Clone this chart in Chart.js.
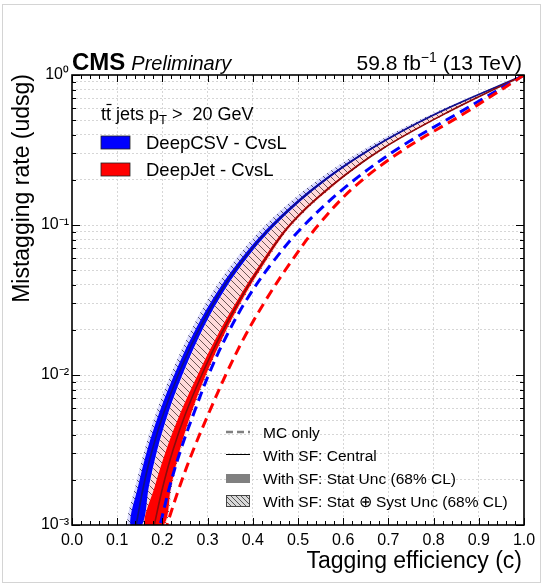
<!DOCTYPE html>
<html>
<head>
<meta charset="utf-8">
<script src="https://cdn.jsdelivr.net/npm/chart.js@4.4.1/dist/chart.umd.min.js"></script>
<style>
  html, body { margin: 0; padding: 0; background: #fff; }
  canvas { display: block; }
</style>
</head>
<body>
<canvas id="roc" width="547" height="585"></canvas>
<script>
// Light-flavour mistag rate levels at which each ROC curve is sampled
const mistagLevels = [1, 0.56, 0.32, 0.18, 0.1, 0.056, 0.032, 0.018, 0.01, 0.0056, 0.0032, 0.0018, 0.001];

// DeepCSV CvsL: charm tagging efficiency at each mistag level
const deepCsvMc       = [1.000, 0.856, 0.719, 0.606, 0.514, 0.443, 0.387, 0.341, 0.302, 0.270, 0.241, 0.216, 0.195];
const deepCsvSf       = [1.000, 0.810, 0.660, 0.540, 0.445, 0.373, 0.318, 0.273, 0.235, 0.203, 0.178, 0.158, 0.142];
const deepCsvStatLow  = [1.000, 0.808, 0.657, 0.536, 0.440, 0.367, 0.311, 0.265, 0.226, 0.193, 0.167, 0.146, 0.129];
const deepCsvStatHigh = [1.000, 0.812, 0.663, 0.544, 0.450, 0.379, 0.325, 0.281, 0.244, 0.213, 0.189, 0.170, 0.155];
const deepCsvSystLow  = [1.000, 0.802, 0.647, 0.524, 0.428, 0.356, 0.301, 0.256, 0.218, 0.186, 0.161, 0.140, 0.123];
const deepCsvSystHigh = [1.000, 0.812, 0.663, 0.544, 0.450, 0.379, 0.325, 0.281, 0.244, 0.213, 0.189, 0.170, 0.155];

// DeepJet CvsL
const deepJetMc       = [1.000, 0.870, 0.735, 0.625, 0.545, 0.483, 0.430, 0.382, 0.340, 0.303, 0.269, 0.238, 0.210];
const deepJetSf       = [1.000, 0.829, 0.685, 0.572, 0.482, 0.422, 0.372, 0.327, 0.287, 0.252, 0.224, 0.201, 0.182];
const deepJetStatLow  = [1.000, 0.827, 0.683, 0.569, 0.479, 0.418, 0.367, 0.320, 0.278, 0.240, 0.209, 0.183, 0.161];
const deepJetStatHigh = [1.000, 0.831, 0.687, 0.575, 0.485, 0.426, 0.377, 0.334, 0.296, 0.264, 0.239, 0.219, 0.203];
const deepJetSystLow  = [1.000, 0.813, 0.664, 0.545, 0.451, 0.380, 0.326, 0.282, 0.245, 0.214, 0.190, 0.171, 0.156];
const deepJetSystHigh = [1.000, 0.833, 0.689, 0.577, 0.487, 0.428, 0.379, 0.336, 0.298, 0.266, 0.241, 0.221, 0.205];

// Axis ticks
const xMajorTicks = [0.0, 0.1, 0.2, 0.3, 0.4, 0.5, 0.6, 0.7, 0.8, 0.9, 1.0];
const xTickLabels = ['0.0', '0.1', '0.2', '0.3', '0.4', '0.5', '0.6', '0.7', '0.8', '0.9', '1.0'];
const yMajorTicks = [0.001, 0.01, 0.1, 1];
const yTickLabels = ['10\u207B\u00B3', '10\u207B\u00B2', '10\u207B\u00B9', '10\u2070'];

const FONT = '"Liberation Sans", Arial, Helvetica, sans-serif';

// minor tick positions: 5 subdivisions on x, 1..9 per decade on y
const xTicks = [];
for (let i = 0; i <= 50; i++) xTicks.push(Math.round(i * 2) / 100);
const yTicks = [];
for (let d = 0; d < yMajorTicks.length - 1; d++) {
  for (let k = 1; k <= 9; k++) yTicks.push(+(k * yMajorTicks[d]).toPrecision(6));
}
yTicks.push(1);

const isMajorX = v => Math.abs(v * 10 - Math.round(v * 10)) < 1e-6;
const isMajorY = v => Math.abs(Math.log10(v) - Math.round(Math.log10(v))) < 1e-6;

function curve(effs) {
  return effs.map((e, i) => ({ x: e, y: mistagLevels[i] }));
}
function band(low, high) {
  return curve(low).concat(curve(high).reverse());
}
function hatch(fill, stroke, size) {
  const c = document.createElement('canvas');
  c.width = size; c.height = size;
  const g = c.getContext('2d');
  g.fillStyle = fill;
  g.fillRect(0, 0, size, size);
  g.strokeStyle = stroke;
  g.lineWidth = 0.9;
  g.beginPath();
  for (const k of [-size, 0, size]) { g.moveTo(k, 0); g.lineTo(k + size, size); }
  g.stroke();
  return g.createPattern(c, 'repeat');
}

const ctx0 = document.getElementById('roc').getContext('2d');
const blueHatch = hatch('#dadaff', '#44445a', 7);
const redHatch = hatch('#ffdada', '#5a4444', 7);
const greyHatch = hatch('#d9d9d9', '#444444', 5);

function bandSet(low, high, color, order) {
  return { data: band(low, high), fill: 'shape', backgroundColor: color, borderColor: 'rgba(0,0,0,0)',
           borderWidth: 0, pointRadius: 0, tension: 0.35, order };
}
function lineSet(effs, color, width, dash, order) {
  return { data: curve(effs), fill: false, borderColor: color, borderWidth: width, borderDash: dash,
           pointRadius: 0, tension: 0.35, order };
}

const decor = {
  id: 'decor',
  afterDraw(chart) {
    const { ctx, chartArea: a, scales: { x, y } } = chart;
    ctx.save();

    // inward tick marks on all four sides
    ctx.strokeStyle = '#000';
    ctx.lineWidth = 1;
    ctx.beginPath();
    for (const t of x.ticks) {
      const px = Math.round(x.getPixelForValue(t.value)) + 0.5;
      const len = isMajorX(t.value) ? 7 : 4;
      ctx.moveTo(px, a.bottom); ctx.lineTo(px, a.bottom - len);
      ctx.moveTo(px, a.top); ctx.lineTo(px, a.top + len);
    }
    for (const t of y.ticks) {
      const py = Math.round(y.getPixelForValue(t.value)) + 0.5;
      const len = isMajorY(t.value) ? 8 : 4;
      ctx.moveTo(a.left, py); ctx.lineTo(a.left + len, py);
      ctx.moveTo(a.right, py); ctx.lineTo(a.right - len, py);
    }
    ctx.stroke();

    // frame
    ctx.lineWidth = 1.6;
    ctx.strokeRect(a.left, a.top, a.right - a.left, a.bottom - a.top);

    // page border
    ctx.strokeStyle = '#d4d4d4';
    ctx.lineWidth = 1;
    ctx.strokeRect(2.5, 4.5, 538, 578);

    ctx.fillStyle = '#000';
    ctx.textBaseline = 'alphabetic';

    // header
    ctx.textAlign = 'left';
    ctx.font = 'bold 24px ' + FONT;
    ctx.fillText('CMS', a.left, 70);
    const cmsW = ctx.measureText('CMS').width;
    ctx.font = 'italic 20px ' + FONT;
    ctx.fillText('Preliminary', a.left + cmsW + 6, 70);

    const partA = '59.8 fb', partB = '\u22121', partC = ' (13 TeV)';
    ctx.font = '21px ' + FONT;
    const wA = ctx.measureText(partA).width, wC = ctx.measureText(partC).width;
    ctx.font = '14px ' + FONT;
    const wB = ctx.measureText(partB).width;
    let sx = a.right - 2 - (wA + wB + wC);
    ctx.font = '21px ' + FONT;
    ctx.fillText(partA, sx, 70); sx += wA;
    ctx.font = '14px ' + FONT;
    ctx.fillText(partB, sx, 62); sx += wB;
    ctx.font = '21px ' + FONT;
    ctx.fillText(partC, sx, 70);

    // axis titles
    ctx.font = '23px ' + FONT;
    ctx.textAlign = 'right';
    ctx.fillText('Tagging efficiency (c)', a.right - 2, 568);
    ctx.save();
    ctx.translate(23, a.top - 1);
    ctx.rotate(-Math.PI / 2);
    ctx.textBaseline = 'middle';
    ctx.fillText('Mistagging rate (udsg)', 0, 0);
    ctx.restore();

    // upper legend
    ctx.textAlign = 'left';
    ctx.font = '18px ' + FONT;
    let lx = 101;
    const ly = 120;
    const tW = ctx.measureText('t').width;
    ctx.fillText('tt', lx, ly);
    ctx.lineWidth = 1.2;
    ctx.strokeStyle = '#000';
    ctx.beginPath();
    ctx.moveTo(lx + tW + 0.5, ly - 15.5); ctx.lineTo(lx + 2 * tW + 0.5, ly - 15.5);
    ctx.stroke();
    lx += ctx.measureText('tt').width;
    ctx.fillText(' jets p', lx, ly); lx += ctx.measureText(' jets p').width;
    ctx.font = '13px ' + FONT;
    ctx.fillText('T', lx, ly + 4); lx += ctx.measureText('T').width;
    ctx.font = '18px ' + FONT;
    ctx.fillText(' >  20 GeV', lx, ly);

    ctx.font = '18.5px ' + FONT;
    const entries = [['DeepCSV - CvsL', '#0000ff', 136], ['DeepJet - CvsL', '#ff0000', 163]];
    for (const [label, col, ry] of entries) {
      ctx.fillStyle = col;
      ctx.fillRect(101, ry, 29, 13);
      ctx.strokeStyle = '#222';
      ctx.lineWidth = 0.8;
      ctx.strokeRect(101, ry, 29, 13);
      ctx.fillStyle = '#000';
      ctx.fillText(label, 146, ry + 13);
    }

    // lower legend
    ctx.font = '15.5px ' + FONT;
    const sx0 = 226, sw = 24, tx = 263;
    ctx.strokeStyle = '#808080';
    ctx.lineWidth = 2.6;
    ctx.setLineDash([7, 4]);
    ctx.beginPath(); ctx.moveTo(sx0, 432); ctx.lineTo(sx0 + sw, 432); ctx.stroke();
    ctx.setLineDash([]);
    ctx.fillText('MC only', tx, 438);

    ctx.strokeStyle = '#000';
    ctx.lineWidth = 1;
    ctx.beginPath(); ctx.moveTo(sx0, 454.5); ctx.lineTo(sx0 + sw, 454.5); ctx.stroke();
    ctx.fillText('With SF: Central', tx, 460.5);

    ctx.fillStyle = '#808080';
    ctx.fillRect(sx0, 474, sw, 9);
    ctx.fillStyle = '#000';
    ctx.fillText('With SF: Stat Unc (68% CL)', tx, 484);

    ctx.fillStyle = greyHatch;
    ctx.fillRect(sx0, 495, sw, 12);
    ctx.strokeStyle = '#444';
    ctx.lineWidth = 1;
    ctx.strokeRect(sx0 + 0.5, 495.5, sw - 1, 11);
    ctx.fillStyle = '#000';
    ctx.fillText('With SF: Stat \u2295 Syst Unc (68% CL)', tx, 506.5);

    ctx.restore();
  }
};

new Chart(ctx0, {
  type: 'line',
  data: {
    datasets: [
      bandSet(deepCsvSystLow, deepCsvSystHigh, blueHatch, 8),
      bandSet(deepJetSystLow, deepJetSystHigh, redHatch, 7),
      bandSet(deepCsvStatLow, deepCsvStatHigh, '#0000ff', 6),
      bandSet(deepJetStatLow, deepJetStatHigh, '#ff0000', 5),
      lineSet(deepCsvSf, '#10108a', 1.7, [], 4),
      lineSet(deepJetSf, '#8a0c0c', 1.6, [], 3),
      lineSet(deepCsvMc, '#0000ff', 3, [10, 6], 2),
      lineSet(deepJetMc, '#ff0000', 3, [10, 6], 1)
    ]
  },
  options: {
    responsive: false,
    animation: false,
    devicePixelRatio: 1,
    layout: { padding: { top: 75, right: 23, left: 0, bottom: 0 } },
    plugins: { legend: { display: false }, tooltip: { enabled: false } },
    scales: {
      x: {
        type: 'linear', min: 0, max: 1,
        afterBuildTicks: axis => { axis.ticks = xTicks.map(v => ({ value: v })); },
        afterFit: axis => { axis.height = 60; },
        ticks: {
          autoSkip: false, maxRotation: 0, padding: 6, color: '#000',
          font: { family: FONT, size: 16 },
          callback: v => isMajorX(v) ? xTickLabels[Math.round(v * 10)] : ''
        },
        grid: {
          drawTicks: false, lineWidth: 1,
          color: c => (c.tick && isMajorX(c.tick.value) && c.tick.value > 0 && c.tick.value < 1) ? '#d6d6d6' : 'rgba(0,0,0,0)'
        },
        border: { display: false, dash: [2, 2] }
      },
      y: {
        type: 'logarithmic', min: 0.001, max: 1,
        afterBuildTicks: axis => { axis.ticks = yTicks.map(v => ({ value: v })); },
        afterFit: axis => { axis.width = 72; },
        ticks: {
          autoSkip: false, padding: 3, color: '#000',
          font: { family: FONT, size: 16 },
          callback: v => isMajorY(v) ? yTickLabels[Math.round(Math.log10(v)) + 3] : ''
        },
        grid: {
          drawTicks: false, lineWidth: 1,
          color: c => (c.tick && c.tick.value > 0.001 && c.tick.value < 1) ? '#d6d6d6' : 'rgba(0,0,0,0)'
        },
        border: { display: false, dash: [2, 2] }
      }
    }
  },
  plugins: [decor]
});
</script>
</body>
</html>
